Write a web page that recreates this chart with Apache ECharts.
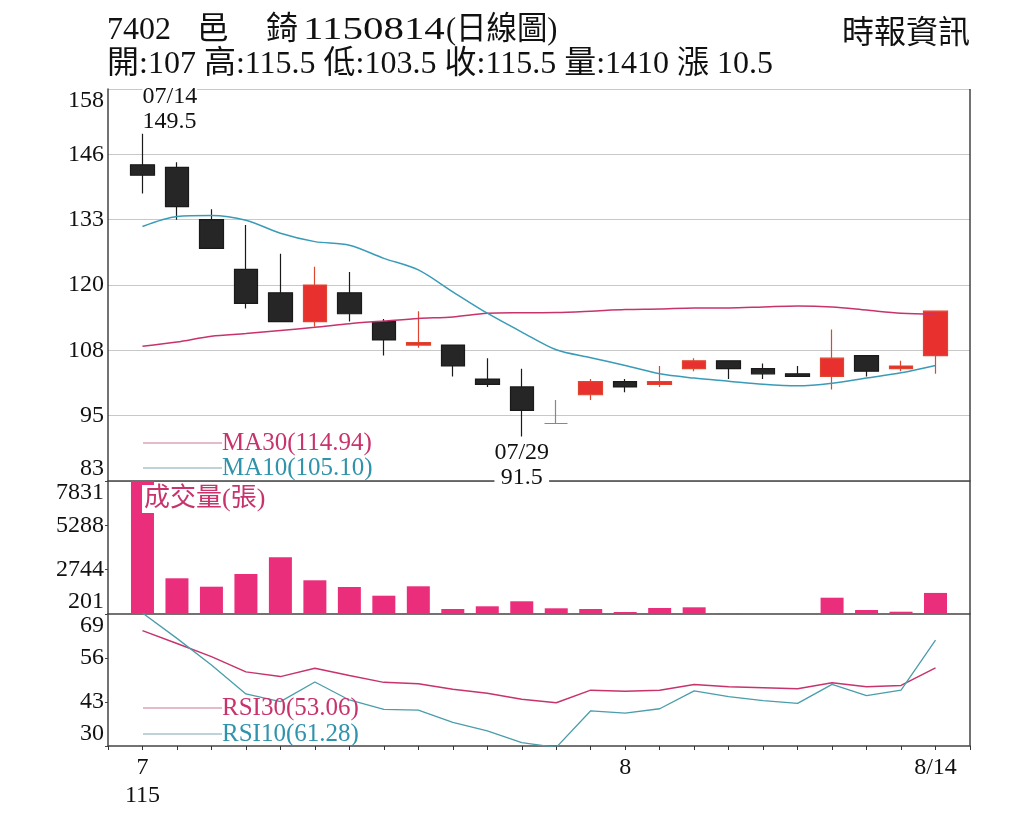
<!DOCTYPE html>
<html>
<head>
<meta charset="utf-8">
<script src="https://cdn.jsdelivr.net/npm/echarts@6/dist/echarts.min.js"></script>
<style>
html, body { margin: 0; padding: 0; background: #fff; }
#main { width: 1024px; height: 819px; }
</style>
</head>
<body>
<div id="main"></div>
<script>
// 7402 邑錡 日線圖 (115/07/14 ~ 115/08/14)
var dates = ['07/14','07/15','07/16','07/17','07/20','07/21','07/22','07/23','07/24','07/27','07/28','07/29',
             '07/30','07/31','08/03','08/04','08/05','08/06','08/07','08/10','08/11','08/12','08/13','08/14'];
var opens  = [143.5,143,133,123.5,119,113.5,119,113.5,109,109,102.5,101,94,99.5,102,101.5,104.5,106,104.5,103.5,103,107,104.5,107];
var closes = [141.5,135.5,127.5,117,113.5,120.5,115,110,109.5,105,101.5,96.5,94,102,101,102,106,104.5,103.5,103,106.5,104,105,115.5];
var lows   = [138,133,127.5,116,113.5,112.5,113.5,107,108.5,103,101,91.5,94,98.5,100,101,104,102.5,102.5,103,100.5,103,104,103.5];
var highs  = [149.5,144,135,132,126.5,124,123,114,115.5,109,106.5,104.5,98.5,102.5,102.5,105,106.5,106,105.5,105,112,107,106,115.5];
var ma30 = [108.8,109.6,110.7,111.2,111.8,112.4,113.1,113.6,114.1,114.4,115.1,115.2,115.25,115.5,115.8,115.9,116.1,116.1,116.3,116.5,116.3,115.7,115.1,114.94];
var ma10 = [131.7,133.6,133.8,132.9,130.4,128.8,128.1,125.6,123.4,119.2,115.1,111.5,108.1,106.6,105.1,103.5,102.7,102.1,101.5,101.2,101.7,102.7,103.7,105.1];
var volumes = [7831,2249,1767,2496,3453,2134,1750,1251,1790,488,643,930,528,488,316,545,585,258,150,120,1136,430,333,1410];
var rsi30 = [64.1,60.3,56.4,51.9,50.5,53.0,50.8,48.8,48.4,46.8,45.6,43.8,42.8,46.5,46.2,46.5,48.2,47.5,47.2,46.9,48.7,47.5,47.9,53.06];
var rsi10 = [69.3,61.8,53.9,45.4,43.1,48.9,43.6,40.8,40.6,37.0,34.5,31.0,29.6,40.4,39.7,41.0,46.3,44.6,43.4,42.6,48.2,44.9,46.5,61.28];

var priceTicks = ['83','95','108','120','133','146','158'];
var volTicks = ['201','2744','5288','7831'];
var rsiTicks = ['30','43','56','69'];
var labelDates = ['07/14','08/03','08/14'];
var labelTexts = ['7\n115','8','8/14'];

var FONT = '"Liberation Serif", "Noto Sans CJK TC", serif';
var RED = '#e8312f', BLACK = '#262626';
var PINK = '#c8336c', TEAL = '#2f93ab';

// 左右各留一格空白
function pad(arr) { return ['-'].concat(arr, ['-']); }
var cats = [''].concat(dates, ['']);
var kdata = pad(dates.map(function (d, i) { return [opens[i], closes[i], lows[i], highs[i]]; }));

var hi = highs.indexOf(Math.max.apply(null, highs));
var lo = lows.indexOf(Math.min.apply(null, lows));

var myChart = echarts.init(document.getElementById('main'));

function yLabel(list, min, step) {
    return {
        fontFamily: FONT, fontSize: 24, color: '#111', margin: 4,
        verticalAlignMinLabel: 'bottom', verticalAlignMaxLabel: 'top',
        formatter: function (v) { return list[Math.round((v - min) / step)]; }
    };
}
var axisLineDark = { show: true, lineStyle: { color: '#444', width: 1.5 } };

// 標題文字
function txt(s, x, y, size, color, extra) {
    var el = { type: 'text', z: 100, x: x, y: y,
        style: { text: s, x: 0, y: 0, font: size + 'px ' + FONT, fill: color || '#111',
                 textVerticalAlign: 'middle', verticalAlign: 'middle' } };
    if (extra) {
        for (var k in extra) {
            if (k === 'style') { for (var j in extra.style) el.style[j] = extra.style[j]; }
            else el[k] = extra[k];
        }
    }
    return el;
}
function legendLine(y, color) {
    return { type: 'line', z: 100, shape: { x1: 143, y1: y, x2: 222, y2: y }, style: { stroke: color, lineWidth: 1.5 } };
}

var option = {
    animation: false,
    backgroundColor: '#fff',
    grid: [
        { left: 108, right: 54, top: 89, height: 392 },
        { left: 108, right: 54, top: 481, height: 133 },
        { left: 108, right: 54, top: 614, height: 132 }
    ],
    xAxis: [
        { type: 'category', gridIndex: 0, data: cats, boundaryGap: false,
          axisLine: axisLineDark, axisTick: { show: false }, axisLabel: { show: false } },
        { type: 'category', gridIndex: 1, data: cats, boundaryGap: false,
          axisLine: axisLineDark, axisTick: { show: false }, axisLabel: { show: false } },
        { type: 'category', gridIndex: 2, data: cats, boundaryGap: false,
          axisLine: axisLineDark,
          axisTick: { show: true, interval: 0, length: 4, lineStyle: { color: '#333' } },
          axisLabel: {
              interval: 0, fontFamily: FONT, fontSize: 24, color: '#111', margin: 8, lineHeight: 28,
              formatter: function (v) {
                  var k = labelDates.indexOf(v);
                  return k < 0 ? '' : labelTexts[k];
              }
          } }
    ],
    yAxis: [
        { type: 'value', gridIndex: 0, min: 83, max: 158, interval: 12.5,
          axisLine: axisLineDark, axisTick: { show: false },
          splitLine: { show: true, lineStyle: { color: '#c8c8c8', width: 1 } },
          axisLabel: yLabel(priceTicks, 83, 12.5) },
        { type: 'value', gridIndex: 1, min: 201, max: 7831, interval: (7831 - 201) / 3,
          axisLine: axisLineDark, axisTick: { show: true, length: 3, lineStyle: { color: '#444' } },
          splitLine: { show: false },
          axisLabel: yLabel(volTicks, 201, (7831 - 201) / 3) },
        { type: 'value', gridIndex: 2, min: 30, max: 69, interval: 13,
          axisLine: axisLineDark, axisTick: { show: true, length: 3, lineStyle: { color: '#444' } },
          splitLine: { show: false },
          axisLabel: yLabel(rsiTicks, 30, 13) }
    ],
    series: [
        {
            type: 'candlestick', xAxisIndex: 0, yAxisIndex: 0, data: kdata, barWidth: 24,
            itemStyle: {
                color: RED, color0: BLACK,
                borderColor: '#e0452f', borderColor0: '#1a1a1a', borderColorDoji: '#888',
                borderWidth: 1.2
            },
            markPoint: {
                symbol: 'rect', symbolSize: 1, itemStyle: { color: 'rgba(0,0,0,0)' },
                data: [
                    { coord: [dates[hi], highs[hi]],
                      label: { show: true, position: 'top', distance: -1, align: 'left',
                               formatter: dates[hi] + '\n' + highs[hi] } },
                    { coord: [dates[lo], lows[lo]],
                      label: { show: true, position: 'bottom', distance: 3, align: 'center',
                               formatter: dates[lo] + '\n' + lows[lo] } }
                ],
                label: { fontFamily: FONT, fontSize: 24, lineHeight: 25, color: '#111', backgroundColor: '#fff' }
            }
        },
        { type: 'line', xAxisIndex: 0, yAxisIndex: 0, data: pad(ma30), symbol: 'none', smooth: 0.3,
          lineStyle: { color: PINK, width: 1.5 }, z: 3 },
        { type: 'line', xAxisIndex: 0, yAxisIndex: 0, data: pad(ma10), symbol: 'none', smooth: 0.3,
          lineStyle: { color: '#3a9bb8', width: 1.5 }, z: 3 },
        { type: 'bar', xAxisIndex: 1, yAxisIndex: 1, data: pad(volumes), barWidth: 23,
          itemStyle: { color: '#ea2e7c' } },
        { type: 'line', xAxisIndex: 2, yAxisIndex: 2, data: pad(rsi30), symbol: 'none',
          lineStyle: { color: PINK, width: 1.5 } },
        { type: 'line', xAxisIndex: 2, yAxisIndex: 2, data: pad(rsi10), symbol: 'none',
          lineStyle: { color: '#4a9daa', width: 1.3 } }
    ],
    graphic: [
        txt('7402', 107, 31, 32),
        txt('邑', 197, 31, 32),
        txt('錡', 266, 31, 32),
        txt('1150814', 303, 31, 32, '#111', { scaleX: 1.28 }),
        txt('(日線圖)', 446, 31, 32, '#111', { scaleX: 0.95 }),
        txt('開:107 高:115.5 低:103.5 收:115.5 量:1410 漲 10.5', 107, 65, 32),
        txt('時報資訊', 970, 35, 32, '#111', { style: { textAlign: 'right', align: 'right' } }),
        // 右框線
        { type: 'line', z: 100, shape: { x1: 970, y1: 89, x2: 970, y2: 746 }, style: { stroke: '#444', lineWidth: 1.5 } },
        // 圖例
        legendLine(443, '#dca3b9'),
        txt('MA30(114.94)', 222, 443, 25, PINK),
        legendLine(468, '#aac3cc'),
        txt('MA10(105.10)', 222, 468, 25, TEAL),
        txt('成交量(張)', 142, 499, 26, PINK, { style: { backgroundColor: '#fff', padding: [1, 2] } }),
        legendLine(708, '#dca3b9'),
        txt('RSI30(53.06)', 222, 708, 25, PINK),
        legendLine(734, '#aac3cc'),
        txt('RSI10(61.28)', 222, 734, 25, TEAL)
    ]
};
myChart.setOption(option);
</script>
</body>
</html>
